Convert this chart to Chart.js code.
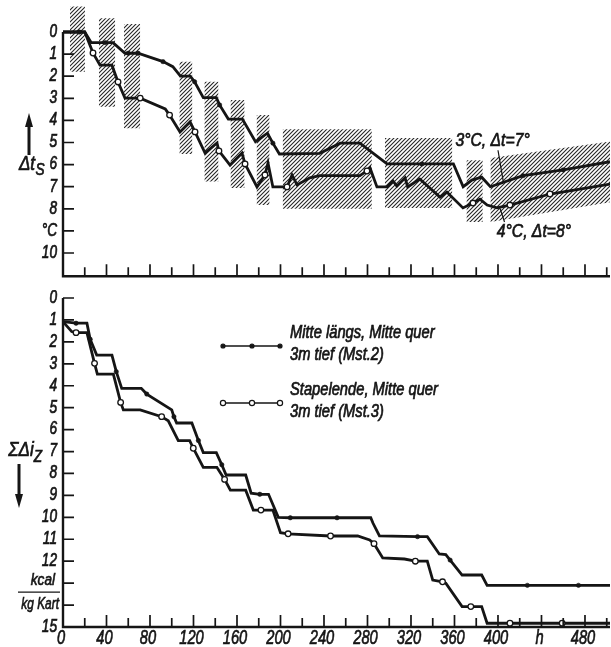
<!doctype html>
<html lang="de">
<head>
<meta charset="UTF-8" />
<title>Temperaturabsenkung und Wärmeentzug im Stapel</title>
<script src="https://cdn.jsdelivr.net/npm/chart.js"></script>
<style>
  body { margin: 0; background: #fff; }
  #wrap { position: relative; width: 611px; height: 647px; }
  canvas { position: absolute; left: 0; }
  #topChart { top: 0; }
  #bottomChart { top: 290px; }
</style>
</head>
<body>
<div id="wrap">
  <canvas id="topChart" width="611" height="290"></canvas>
  <canvas id="bottomChart" width="611" height="357"></canvas>
</div>
<script>
// ---- Daten ----
// oben: Temperaturabsenkung Δt_s in °C über Stunden
const ts3H = [0, 15, 20, 26, 39, 46, 57, 60, 69, 92, 101, 108, 117, 121, 129, 141, 144, 152, 165, 177, 188, 193, 199, 236, 255, 273, 298, 330, 359, 368, 376, 385, 393, 423, 460, 503];
const ts3V = [0, 0, 0, 0.48, 0.48, 0.48, 0.96, 0.96, 0.96, 1.34, 1.57, 2.0, 2.0, 2.25, 2.97, 2.97, 3.3, 3.94, 3.94, 4.96, 4.58, 5.03, 5.52, 5.49, 5.03, 5.03, 5.97, 5.97, 5.97, 7.0, 6.7, 6.57, 7.0, 6.5, 6.24, 5.87];
const ts3Dots = [1, 4, 7, 8, 9, 13, 16, 21, 27, 33, 34];

const ts4H = [0, 20, 27.6, 34, 45, 50.6, 57, 71, 94, 98, 107.6, 116.8, 121.4, 130.6, 141.6, 143.4, 153.6, 164.6, 167.4, 178.4, 185.7, 188.5, 193, 206, 210.6, 215.2, 227, 236, 273, 279.5, 282.3, 288.7, 298, 303.4, 307, 314.5, 317, 328, 346.7, 353, 367.8, 377, 383.4, 390, 399, 411, 447.8, 503];
const ts4V = [0, 0, 0.95, 1.5, 1.5, 2.26, 2.99, 2.99, 3.48, 3.76, 4.52, 4.07, 4.52, 5.48, 5.02, 5.38, 6.02, 5.48, 5.97, 7.01, 6.47, 5.93, 7.01, 7.01, 6.47, 6.92, 6.6, 6.5, 6.5, 6.29, 6.15, 7.01, 7.01, 6.74, 6.97, 6.6, 7.01, 6.65, 7.47, 7.24, 7.96, 7.74, 7.56, 7.83, 7.96, 7.83, 7.33, 6.88];
const ts4Dots = [2, 5, 7, 9, 12, 15, 18, 20, 23, 29, 41, 45, 46];

// schraffierte Streubereiche
const hatchH1 = [6.4, 33, 56, 107, 130, 154, 178, 202, 296, 371];
const hatchH2 = [20.2, 48, 71, 119, 143, 167, 190, 284, 358, 386];
const hatchHi = [-1.15, -0.62, -0.36, 1.34, 2.25, 3.08, 3.76, 4.4, 4.8, 5.8];
const hatchLo = [1.8, 3.38, 4.35, 5.52, 6.77, 7.06, 7.83, 8.0, 7.96, 8.6];
const bandH = [393, 503];
const bandTop = [5.7, 4.96];
const bandBottom = [8.6, 7.7];

// unten: Summe Δi_z in kcal/kg Kart
const mst2H = [0, 12, 22, 25, 31, 45, 49, 54, 72, 77, 100, 102, 104.5, 118.5, 124.5, 129, 141, 146, 150, 168, 173, 181, 189, 198, 209, 252, 283, 285, 291, 326, 335, 346, 352, 356, 367, 385, 390, 427, 474, 503];
const mst2V = [1.08, 1.15, 1.15, 1.88, 2.6, 2.6, 3.36, 4.12, 4.12, 4.38, 5.1, 5.41, 5.7, 5.7, 6.5, 7.05, 7.05, 7.6, 8.07, 8.07, 8.9, 8.95, 8.95, 10.0, 10.02, 10.02, 10.02, 10.26, 10.85, 10.88, 10.88, 11.67, 11.7, 11.95, 12.63, 12.63, 13.1, 13.1, 13.1, 13.1];
const mst2Dots = [1, 3, 6, 9, 11, 14, 17, 21, 24, 25, 29, 33, 37, 38];

const mst3H = [0, 8, 12, 22, 29, 31.6, 46.3, 53, 55.5, 71, 90.7, 96.8, 106, 116.5, 119.8, 129, 141.5, 148.6, 153.9, 168, 175, 182, 193, 200, 207, 246, 271, 282, 286, 294, 314, 324, 335, 340, 349, 352, 367, 375, 385, 390, 411, 459, 503];
const mst3V = [1.08, 1.53, 1.58, 1.58, 2.98, 3.47, 3.47, 4.76, 5.1, 5.1, 5.41, 5.6, 6.5, 6.5, 6.85, 7.72, 7.72, 8.27, 8.76, 8.76, 9.67, 9.67, 9.67, 10.7, 10.75, 10.85, 10.85, 11.03, 11.2, 11.85, 11.9, 12.0, 12.0, 12.86, 12.94, 13.0, 14.07, 14.07, 14.07, 14.83, 14.83, 14.83, 14.83];
const mst3Dots = [2, 4, 7, 10, 14, 17, 21, 24, 25, 28, 31, 34, 37, 40, 41];

// Achsen
const xTickValues = [20, 40, 60, 80, 100, 120, 140, 160, 180, 200, 220, 240, 260, 280, 300, 320, 340, 360, 380, 400, 420, 440, 460, 480, 500];
const xLabelValues = [0, 40, 80, 120, 160, 200, 240, 280, 320, 360, 400, 440, 480];
const xLabelTexts = ['0', '40', '80', '120', '160', '200', '240', '280', '320', '360', '400', 'h', '480'];
const topYTicks = [0, 1, 2, 3, 4, 5, 6, 7, 8, 9, 10];
const topYLabels = ['0', '1', '2', '3', '4', '5', '6', '7', '8', '°C', '10'];
const botYTicks = [0, 1, 2, 3, 4, 5, 6, 7, 8, 9, 10, 11, 12, 13, 14];
const botYLabels = ['0', '1', '2', '3', '4', '5', '6', '7', '8', '9', '10', '11', '12', 'kcal', 'kg Kart', '15'];

const INK = '#151515';
const FONT = '"Liberation Sans", Arial, sans-serif';

function pts(hs, vs) {
  return hs.map((h, i) => ({ x: h, y: vs[i] }));
}

function hatchPattern() {
  const c = document.createElement('canvas');
  c.width = 4; c.height = 4;
  const g = c.getContext('2d');
  g.strokeStyle = '#262626';
  g.lineWidth = 1.1;
  g.beginPath();
  g.moveTo(0, 4); g.lineTo(4, 0);
  g.moveTo(-1, 1); g.lineTo(1, -1);
  g.moveTo(3, 5); g.lineTo(5, 3);
  g.stroke();
  return g.createPattern(c, 'repeat');
}

// kursive, etwas schmalere und kräftigere Schrift wie im Original
function text(ctx, s, x, y, size, align, sx) {
  ctx.save();
  ctx.translate(x, y);
  ctx.scale(sx, 1);
  ctx.font = 'italic ' + size + 'px ' + FONT;
  ctx.textAlign = align;
  ctx.textBaseline = 'middle';
  ctx.fillStyle = INK;
  ctx.strokeStyle = INK;
  ctx.lineWidth = 0.7;
  ctx.fillText(s, 0, 0);
  ctx.strokeText(s, 0, 0);
  ctx.restore();
}

function arrow(ctx, x, y1, y2) {
  // Pfeil von y1 nach y2 (Spitze bei y2)
  const dir = y2 < y1 ? -1 : 1;
  ctx.save();
  ctx.strokeStyle = INK; ctx.fillStyle = INK; ctx.lineWidth = 3;
  ctx.beginPath(); ctx.moveTo(x, y1); ctx.lineTo(x, y2 - dir * 10); ctx.stroke();
  ctx.beginPath();
  ctx.moveTo(x, y2); ctx.lineTo(x - 4, y2 - dir * 14); ctx.lineTo(x + 4, y2 - dir * 14);
  ctx.closePath(); ctx.fill();
  ctx.restore();
}

function drawAxes(chart, yTicks, yLabels, yTop, yBottom, withXLabels) {
  const ctx = chart.ctx;
  const xs = chart.scales.x, ys = chart.scales.y;
  const x0 = xs.getPixelForValue(0);
  const xEnd = xs.getPixelForValue(xs.max);
  const yAxisTop = ys.getPixelForValue(yTop);
  const yBase = ys.getPixelForValue(yBottom);
  ctx.save();
  ctx.strokeStyle = INK;
  ctx.lineWidth = 2.4;
  ctx.beginPath();
  ctx.moveTo(x0, yAxisTop); ctx.lineTo(x0, yBase); ctx.lineTo(xEnd, yBase);
  ctx.stroke();
  ctx.lineWidth = 1.7;
  ctx.beginPath();
  xTickValues.forEach(v => {
    const px = xs.getPixelForValue(v);
    const len = v % 40 === 0 ? 12 : 9;
    ctx.moveTo(px, yBase); ctx.lineTo(px, yBase - len);
  });
  yTicks.forEach(v => {
    const py = ys.getPixelForValue(v);
    ctx.moveTo(x0, py); ctx.lineTo(x0 + 11, py);
  });
  ctx.stroke();
  ctx.restore();
  yLabels.forEach((s, i) => {
    const py = ys.getPixelForValue(i);
    if (s === 'kcal' || s === 'kg Kart') return;
    text(ctx, s, x0 - 6, py, 17.5, 'right', 0.78);
  });
  if (withXLabels) {
    xLabelValues.forEach((v, i) => {
      text(ctx, xLabelTexts[i], xs.getPixelForValue(v) - 2, yBase + 11, 21, 'center', 0.7);
    });
  }
}

const hatch = hatchPattern();

function lineSet(data, dots, open) {
  return {
    data: data,
    borderColor: INK,
    borderWidth: 2.8,
    tension: 0,
    fill: false,
    pointRadius: c => dots.includes(c.dataIndex) ? (open ? 2.8 : 2.2) : 0,
    pointBackgroundColor: open ? '#fff' : INK,
    pointBorderColor: INK,
    pointBorderWidth: open ? 1.3 : 0.5
  };
}

function edge(data, fill) {
  return {
    data: data,
    borderColor: 'rgba(0,0,0,0)',
    borderWidth: 0.01,
    pointRadius: 0,
    fill: fill,
    backgroundColor: hatch,
    tension: 0
  };
}

function baseOptions(yMin, yMax, pad) {
  return {
    responsive: false,
    animation: false,
    devicePixelRatio: 1,
    layout: { padding: pad },
    plugins: { legend: { display: false }, tooltip: { enabled: false } },
    scales: {
      x: { type: 'linear', min: 0, max: 503, display: false },
      y: { type: 'linear', min: yMin, max: yMax, reverse: true, display: false }
    }
  };
}

// ---- oberes Diagramm ----
const topSets = [
  lineSet(pts(ts3H, ts3V), ts3Dots, false),
  lineSet(pts(ts4H, ts4V), ts4Dots, true)
];
hatchH1.forEach((h1, i) => {
  topSets.push(edge([{ x: h1, y: hatchHi[i] }, { x: hatchH2[i], y: hatchHi[i] }], false));
  topSets.push(edge([{ x: h1, y: hatchLo[i] }, { x: hatchH2[i], y: hatchLo[i] }], '-1'));
});
topSets.push(edge(pts(bandH, bandTop), false));
topSets.push(edge(pts(bandH, bandBottom), '-1'));

new Chart(document.getElementById('topChart'), {
  type: 'line',
  data: { datasets: topSets },
  options: baseOptions(-1.2, 11.05, { left: 63, right: 1, top: 5.5, bottom: 13.8 }),
  plugins: [{
    id: 'topAxes',
    afterDraw(chart) {
      const ctx = chart.ctx;
      const xs = chart.scales.x, ys = chart.scales.y;
      drawAxes(chart, topYTicks, topYLabels, 0, ys.max, false);
      // Achsentitel
      arrow(ctx, 29, 155, 113);
      text(ctx, 'Δt', 27, 164, 20, 'center', 0.85);
      text(ctx, 'S', 40, 171, 16, 'center', 0.85);
      // Kurvenbeschriftungen
      text(ctx, '3°C, Δt=7°', xs.getPixelForValue(395), ys.getPixelForValue(4.93), 18.5, 'center', 0.85);
      text(ctx, '4°C, Δt=8°', xs.getPixelForValue(433), ys.getPixelForValue(9.05), 18.5, 'center', 0.85);
      ctx.save();
      ctx.strokeStyle = INK; ctx.lineWidth = 1.2;
      ctx.beginPath();
      ctx.moveTo(xs.getPixelForValue(400), ys.getPixelForValue(5.35));
      ctx.lineTo(xs.getPixelForValue(405), ys.getPixelForValue(6.8));
      ctx.moveTo(xs.getPixelForValue(402), ys.getPixelForValue(8.0));
      ctx.lineTo(xs.getPixelForValue(406), ys.getPixelForValue(8.6));
      ctx.stroke();
      ctx.restore();
    }
  }]
});

// ---- unteres Diagramm ----
new Chart(document.getElementById('bottomChart'), {
  type: 'line',
  data: {
    datasets: [
      lineSet(pts(mst2H, mst2V), mst2Dots, false),
      lineSet(pts(mst3H, mst3V), mst3Dots, true)
    ]
  },
  options: baseOptions(0, 15, { left: 63, right: 1, top: 8, bottom: 20 }),
  plugins: [{
    id: 'bottomAxes',
    afterDraw(chart) {
      const ctx = chart.ctx;
      const ys = chart.scales.y;
      const x0 = chart.scales.x.getPixelForValue(0);
      drawAxes(chart, botYTicks, botYLabels, 0, 15, true);
      // Einheit als Bruch
      const y13 = ys.getPixelForValue(13), y14 = ys.getPixelForValue(14);
      text(ctx, 'kcal', x0 - 8, y13 - 3, 17, 'right', 0.8);
      text(ctx, 'kg Kart', x0 - 4, y14 - 1, 17, 'right', 0.7);
      ctx.save();
      ctx.strokeStyle = INK; ctx.lineWidth = 1.4;
      ctx.beginPath();
      ctx.moveTo(x0 - 45, (y13 + y14) / 2 - 2);
      ctx.lineTo(x0 - 3, (y13 + y14) / 2 - 2);
      ctx.stroke();
      ctx.restore();
      // Achsentitel
      text(ctx, 'ΣΔi', 21, 160, 20, 'center', 0.85);
      text(ctx, 'Z', 38, 168, 16, 'center', 0.85);
      arrow(ctx, 19, 174, 218);
      // Legende
      const legend = [
        { y: 56, open: false, l1: 'Mitte längs, Mitte quer', l2: '3m tief (Mst.2)' },
        { y: 113, open: true, l1: 'Stapelende, Mitte quer', l2: '3m tief (Mst.3)' }
      ];
      legend.forEach(e => {
        ctx.save();
        ctx.strokeStyle = INK; ctx.lineWidth = 1.5;
        ctx.beginPath(); ctx.moveTo(223, e.y); ctx.lineTo(280, e.y); ctx.stroke();
        [223, 252, 280].forEach(px => {
          ctx.beginPath();
          ctx.arc(px, e.y, e.open ? 2.6 : 2, 0, Math.PI * 2);
          ctx.fillStyle = e.open ? '#fff' : INK;
          ctx.fill();
          ctx.lineWidth = 1.2;
          ctx.stroke();
        });
        ctx.restore();
        text(ctx, e.l1, 290, e.y - 13, 17.5, 'left', 0.84);
        text(ctx, e.l2, 290, e.y + 9, 17.5, 'left', 0.84);
      });
    }
  }]
});
</script>
</body>
</html>
